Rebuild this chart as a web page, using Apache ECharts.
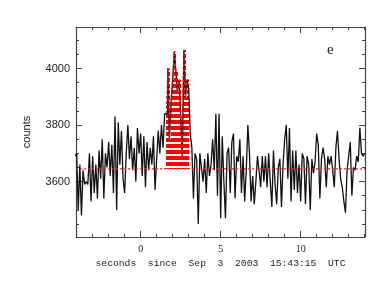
<!DOCTYPE html>
<html>
<head>
<meta charset="utf-8">
<script src="https://cdn.jsdelivr.net/npm/echarts@6/dist/echarts.min.js"></script>
<style>html,body{margin:0;padding:0;background:#fff}#c{width:376px;height:291px}</style>
</head>
<body>
<div id="c"></div>
<script>
// ---- data ----
const T0 = -4.1;          // start of first time bin (s)
const BIN = 0.1;          // bin width (s)
const counts = [
  3690,3700,3500,3660,3480,3640,3590,3600,3590,3700,3530,3690,
  3560,3660,3540,3710,3610,3750,3540,3700,3650,3740,
  3620,3730,3560,3830,3500,3810,3660,3780,3610,3560,
  3700,3800,3680,3760,3640,3720,3600,3790,3700,3770,
  3620,3760,3580,3740,3640,3720,3660,3760,3570,3680,
  3780,3700,3800,3720,3840,
  3840,4000,3750,3880,3960,4060,3990,3920,3960,3830,3690,4065,3900,3960,
  3930,3770,3720,3540,3700,3680,3450,3700,3650,3600,
  3680,3560,3700,3620,3660,3750,3640,3840,3550,3840,
  3470,3760,3600,3470,3700,3720,3560,3740,3770,3540,
  3690,3670,3750,3560,3690,3530,3640,3800,3700,3530,
  3620,3520,3600,3690,3640,3580,3690,3600,3690,3580,
  3700,3600,3510,3710,3590,3520,3650,3680,3510,3660,
  3750,3800,3610,3790,3530,3710,3570,3710,3560,3660,
  3530,3700,3680,3520,3690,3660,3500,3680,3630,3670,
  3770,3730,3540,3680,3720,3680,3580,3690,3660,3690,
  3640,3580,3720,3780,3680,3610,3580,3530,3490,3640,
  3690,3740,3550,3650,3640,3690,3670,3790,3700,3690,3700
];
const BASELINE = 3645;
const burstStart = 1.6, burstEnd = 3.0;   // interval of the red hatched region
const xMajorTicks = [0, 5, 10];
const xMinorTicks = [-4,-3,-2,-1,0,1,2,3,4,5,6,7,8,9,10,11,12,13,14];
const yMajorTicks = [3600, 3800, 4000];
const yMinorTicks = [3450,3500,3550,3600,3650,3700,3750,3800,3850,3900,3950,4000,4050,4100];
const X_MIN = -4.04, X_MAX = 14.02, Y_MIN = 3404, Y_MAX = 4147;
const xTitle = 'seconds  since  Sep  3  2003  15:43:15  UTC';
const yTitle = 'counts';
const panelLabel = 'e';

// ---- build ----
const tOf = i => Math.round((T0 + i * BIN) * 1000) / 1000;
const lineData = counts.map((v, i) => [tOf(i), v]);
const burstBins = [], burstLine = [];
counts.forEach((v, i) => {
  const t = tOf(i);
  if (t >= burstStart - 1e-9 && t < burstEnd - 1e-9) {
    burstBins.push([t, Math.min(t + BIN, burstEnd), v]);
    burstLine.push([t, v]);
  }
});
burstLine.push([burstEnd, burstLine[burstLine.length - 1][1]]);
const baselineData = [[X_MIN, BASELINE], [X_MAX, BASELINE]];

// hatch pattern (red stripes with thin white gaps)
const pc = document.createElement('canvas');
pc.width = 6; pc.height = 6;
const pctx = pc.getContext('2d');
pctx.fillStyle = '#ffffff'; pctx.fillRect(0, 0, 6, 6);
pctx.fillStyle = '#ff0000'; pctx.fillRect(0, 0, 6, 4);
const hatch = { image: pc, repeat: 'repeat' };

const frame = { show: true, onZero: false, lineStyle: { color: '#444', width: 1.2 } };
function xAx(pos, major, withLabel) {
  return {
    type: 'value', min: X_MIN, max: X_MAX, position: pos, gridIndex: 0,
    axisLine: major ? frame : { show: false, onZero: false },
    splitLine: { show: false },
    axisTick: { show: true, inside: true, length: major ? 6 : 3,
      customValues: major ? xMajorTicks : xMinorTicks, lineStyle: { color: '#444', width: 1 } },
    axisLabel: withLabel ? { show: true, customValues: xMajorTicks, margin: 7,
      formatter: v => String(v),
      fontFamily: 'Liberation Serif', fontSize: 10, color: '#222' } : { show: false },
    name: withLabel ? xTitle : '', nameLocation: 'middle', nameGap: 21,
    nameTextStyle: { fontFamily: 'Liberation Mono', fontSize: 9.7, color: '#222' }
  };
}
function yAx(pos, major, withLabel) {
  return {
    type: 'value', min: Y_MIN, max: Y_MAX, position: pos, gridIndex: 0,
    axisLine: major ? frame : { show: false, onZero: false },
    splitLine: { show: false },
    axisTick: { show: true, inside: true, length: major ? 6 : 3,
      customValues: major ? yMajorTicks : yMinorTicks, lineStyle: { color: '#444', width: 1 } },
    axisLabel: withLabel ? { show: true, customValues: yMajorTicks, margin: 6,
      formatter: v => String(v),
      fontFamily: 'Liberation Sans', fontSize: 11, color: '#222' } : { show: false },
    name: withLabel ? yTitle : '', nameLocation: 'middle', nameGap: 44, nameRotate: 90,
    nameTextStyle: { fontFamily: 'Liberation Sans', fontSize: 11, color: '#222' }
  };
}

const chart = echarts.init(document.getElementById('c'), null, { renderer: 'canvas' });
chart.setOption({
  animation: false,
  backgroundColor: '#fff',
  grid: { left: 76, right: 11, top: 27, bottom: 54, containLabel: false, outerBoundsMode: 'none' },
  xAxis: [xAx('bottom', true, true), xAx('bottom', false, false), xAx('top', true, false), xAx('top', false, false)],
  yAxis: [yAx('left', true, true), yAx('left', false, false), yAx('right', true, false), yAx('right', false, false)],
  graphic: [{
    type: 'text', left: 327, top: 43,
    style: { text: panelLabel, font: '15px "Liberation Serif"', fill: '#222' }
  }],
  series: [
    { type: 'custom', data: burstBins, silent: true, clip: true,
      encode: { x: [0, 1], y: 2 },
      renderItem: function (params, api) {
        const p0 = api.coord([api.value(0), BASELINE]);
        const p1 = api.coord([api.value(1), api.value(2)]);
        const x0 = Math.floor(p0[0]), x1 = Math.ceil(p1[0]);
        return { type: 'rect',
          shape: { x: x0, y: p1[1], width: x1 - x0, height: p0[1] - p1[1] },
          style: { fill: hatch } };
      } },
    { type: 'line', data: lineData, step: 'end', symbol: 'none',
      lineStyle: { color: '#111', width: 1.3 } },
    { type: 'line', data: burstLine, step: 'end', symbol: 'none',
      lineStyle: { color: '#ff0000', width: 1.2, type: [3, 2] } },
    { type: 'line', data: baselineData, z: 5, symbol: 'none', silent: true,
      lineStyle: { color: '#ff2020', type: [2, 2], width: 1.2 } }
  ]
});
</script>
</body>
</html>
